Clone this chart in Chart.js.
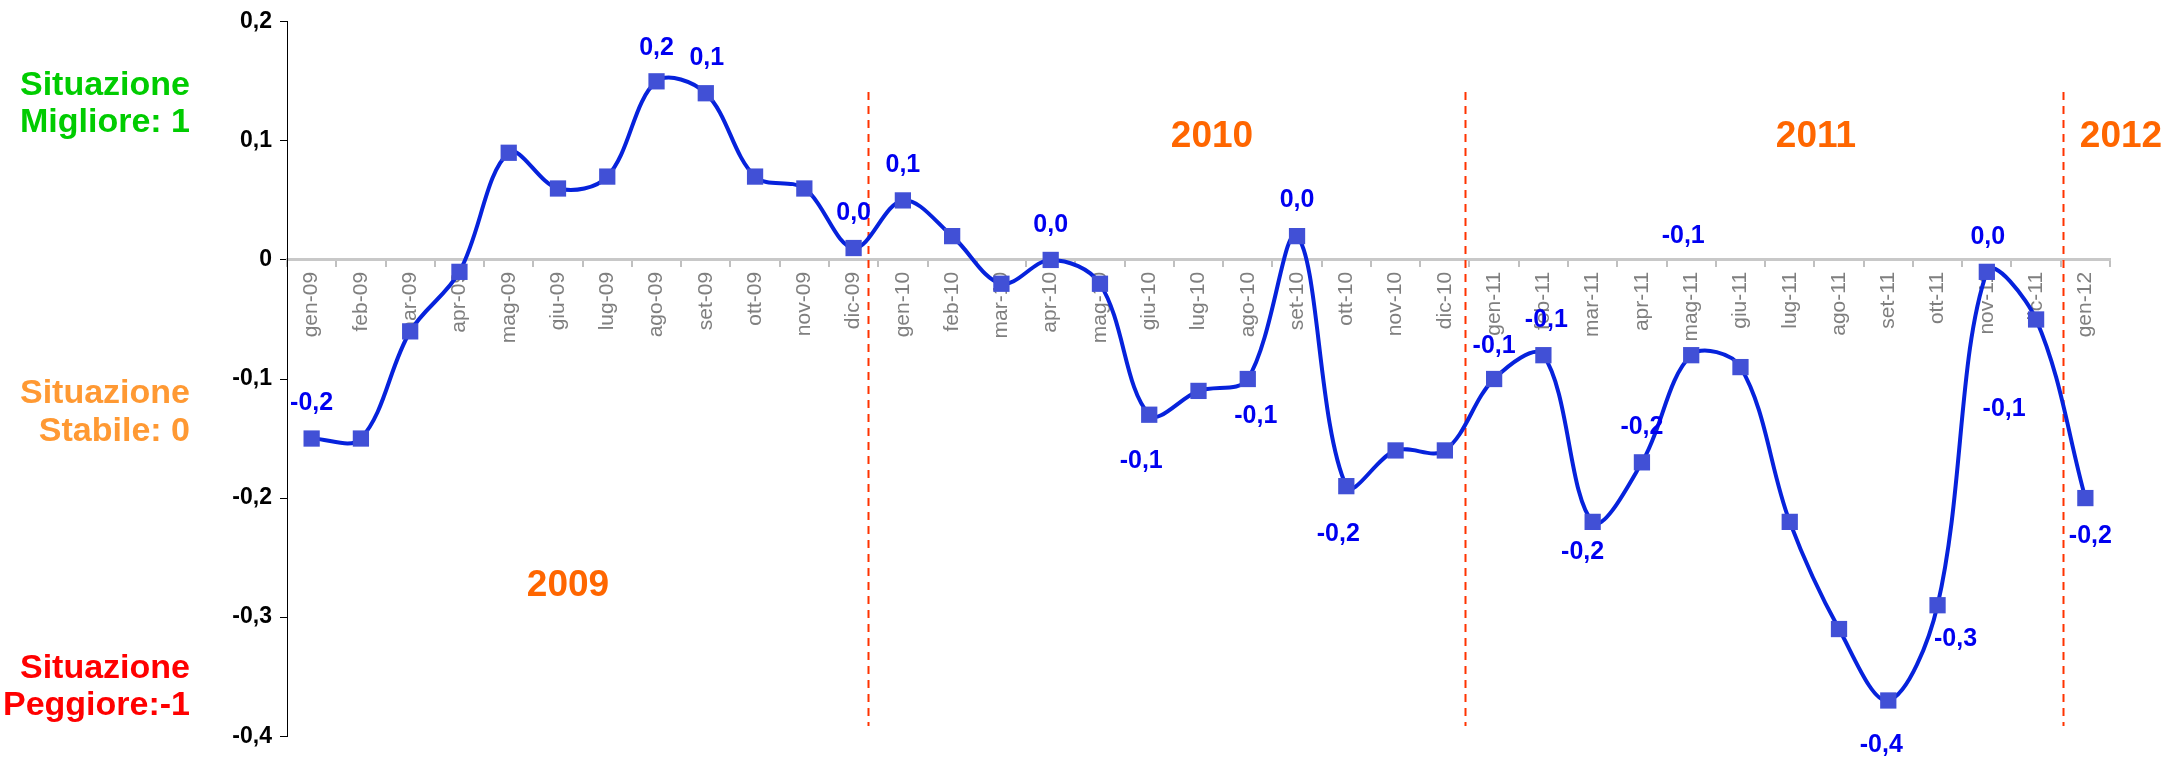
<!DOCTYPE html>
<html>
<head>
<meta charset="utf-8">
<script src="https://cdn.jsdelivr.net/npm/chart.js@4/dist/chart.umd.min.js"></script>
<style>
  html, body { margin: 0; padding: 0; background: #fff; }
  #wrap { width: 2166px; height: 758px; }
</style>
</head>
<body>
<div id="wrap"><canvas id="myChart" width="2166" height="758"></canvas></div>
<script>
// months on the x axis
var months = ['gen-09','feb-09','mar-09','apr-09','mag-09','giu-09','lug-09','ago-09','set-09','ott-09','nov-09','dic-09',
  'gen-10','feb-10','mar-10','apr-10','mag-10','giu-10','lug-10','ago-10','set-10','ott-10','nov-10','dic-10',
  'gen-11','feb-11','mar-11','apr-11','mag-11','giu-11','lug-11','ago-11','set-11','ott-11','nov-11','dic-11',
  'gen-12']

// index values
var indexValues = [-0.15,-0.15,-0.06,-0.01,0.09,0.06,0.07,0.15,0.14,0.07,0.06,0.01,
  0.05,0.02,-0.02,0.00,-0.02,-0.13,-0.11,-0.10,0.02,-0.19,-0.16,-0.16,
  -0.10,-0.08,-0.22,-0.17,-0.08,-0.09,-0.22,-0.31,-0.37,-0.29,-0.01,-0.05,
  -0.20]

var yTickLabels = ['-0,4','-0,3','-0,2','-0,1','0','0,1','0,2']

var years = ['2009','2010','2011','2012']
var legendLines = [['Situazione','Migliore: 1'],['Situazione','Stabile: 0'],['Situazione','Peggiore:-1']]

// which points carry a value label (index -> offset from marker)
var labelOffsets = {
  0:[0,-35], 7:[0,-33], 8:[1,-35], 11:[0,-35], 12:[0,-35], 15:[0,-35], 20:[0,-36],
  17:[-8,46], 19:[8,37], 21:[-8,48], 24:[0,-33], 25:[3,-35], 26:[-10,30], 27:[0,-35],
  28:[-8,-119], 34:[1,-35], 35:[-32,90], 33:[18,34], 32:[-7,45], 36:[5,38]
}

// year dividers, in category units
var dividerPos = [11.3, 23.4, 35.54]
var yearPos = [[568,586],[1212,137],[1816,137],[2121,137]]
var legendPos = [[190,86,123,'#00cc00'],[190,394,432,'#ff9933'],[190,669,706,'#ff0000']]

var FONT = "'Liberation Sans', Arial, sans-serif"

function fmt(v) {
  var r = Math.round(Math.abs(v) * 10 + 1e-9)
  var s = Math.floor(r / 10) + ',' + (r % 10)
  return (v < 0 && r > 0 ? '-' : '') + s
}

const extras = {
  id: 'extras',
  beforeDatasetsDraw(chart) {
    const ctx = chart.ctx, x = chart.scales.x
    ctx.save()
    ctx.strokeStyle = '#ff3300'
    ctx.lineWidth = 2
    ctx.setLineDash([8, 6])
    dividerPos.forEach(function (p) {
      var i = Math.floor(p)
      var px = x.getPixelForValue(i) + (p - i) * (x.getPixelForValue(i + 1) - x.getPixelForValue(i))
      px = Math.round(px) + 0.5
      ctx.beginPath()
      ctx.moveTo(px, 92)
      ctx.lineTo(px, 726)
      ctx.stroke()
    })
    ctx.restore()
  },
  afterDraw(chart) {
    const ctx = chart.ctx
    const meta = chart.getDatasetMeta(0)
    ctx.save()
    ctx.textAlign = 'center'
    ctx.textBaseline = 'middle'
    ctx.fillStyle = '#0000f0'
    ctx.font = 'bold 25px ' + FONT
    Object.keys(labelOffsets).forEach(function (k) {
      var pt = meta.data[k], off = labelOffsets[k]
      ctx.fillText(fmt(indexValues[k]), pt.x + off[0], pt.y + off[1])
    })
    // year captions
    ctx.fillStyle = '#ff6600'
    ctx.font = 'bold 37px ' + FONT
    years.forEach(function (y, i) {
      ctx.fillText(y, yearPos[i][0], yearPos[i][1])
    })
    // left side legend
    ctx.textAlign = 'right'
    ctx.font = 'bold 34px ' + FONT
    legendLines.forEach(function (lines, i) {
      var p = legendPos[i]
      ctx.fillStyle = p[3]
      ctx.fillText(lines[0], p[0], p[1])
      ctx.fillText(lines[1], p[0], p[2])
    })
    ctx.restore()
  }
}

const ctx = document.getElementById('myChart').getContext('2d')

const chart = new Chart(ctx, {
  type: 'line',
  data: {
    labels: months,
    datasets: [{
      data: indexValues,
      borderColor: '#0622dc',
      borderWidth: 4,
      tension: 0.35,
      pointStyle: 'rect',
      pointRadius: 11.5,
      pointBackgroundColor: '#4150d6',
      pointBorderWidth: 0,
      clip: false
    }]
  },
  options: {
    responsive: false,
    animation: false,
    devicePixelRatio: 1,
    layout: { padding: { left: 0, right: 56, top: 18, bottom: 20 } },
    plugins: { legend: { display: false }, tooltip: { enabled: false } },
    scales: {
      x: {
        position: { y: 0 },
        offset: true,
        z: 1,
        grid: { offset: true, drawOnChartArea: false, drawTicks: true, tickLength: 6, color: '#c0c0c0', lineWidth: 2 },
        border: { display: true, color: '#c8c8c8', width: 3 },
        ticks: {
          autoSkip: false, maxRotation: 90, minRotation: 90, padding: 6,
          color: '#7f7f7f', font: { family: FONT, size: 21 }
        }
      },
      y: {
        min: -0.4,
        max: 0.2,
        afterFit: function (scale) { scale.width = 287 },
        grid: { drawOnChartArea: false, drawTicks: true, tickLength: 7, color: '#000' },
        border: { display: true, color: '#000', width: 1 },
        ticks: {
          stepSize: 0.1, padding: 8, color: '#000',
          font: { family: FONT, size: 23, weight: 'bold' },
          callback: function (v) { return yTickLabels[Math.round(v * 10) + 4] }
        }
      }
    }
  },
  plugins: [extras]
})
</script>
</body>
</html>
